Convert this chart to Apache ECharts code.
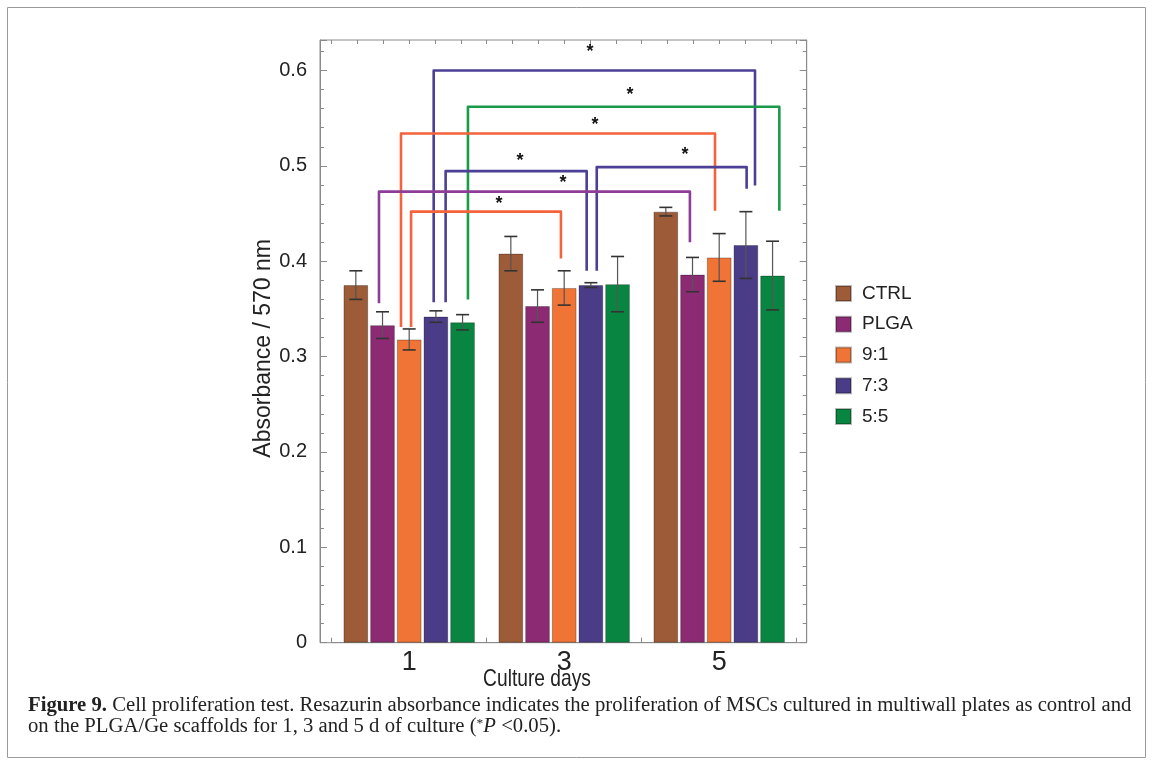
<!DOCTYPE html>
<html>
<head>
<meta charset="utf-8">
<script src="https://cdn.jsdelivr.net/npm/echarts@6/dist/echarts.min.js"></script>
<style>
html,body{margin:0;padding:0;background:#fff;}
#chart{width:1153px;height:783px;}
</style>
</head>
<body>
<div id="chart"></div>
<script>
// ---------- data ----------
const categories = ['1', '3', '5'];
const seriesNames = ['CTRL', 'PLGA', '9:1', '7:3', '5:5'];
const ctrlValues = [0.375, 0.408, 0.452];
const ctrlErrors = [0.015, 0.018, 0.0045];
const plgaValues = [0.333, 0.353, 0.386];
const plgaErrors = [0.014, 0.017, 0.018];
const r91Values = [0.318, 0.372, 0.404];
const r91Errors = [0.011, 0.018, 0.025];
const r73Values = [0.342, 0.375, 0.417];
const r73Errors = [0.006, 0.0025, 0.035];
const r55Values = [0.336, 0.376, 0.385];
const r55Errors = [0.008, 0.029, 0.036];
const yTickLabels = ['0', '0.1', '0.2', '0.3', '0.4', '0.5', '0.6'];
const xAxisTitle = 'Culture days';
const yAxisTitle = 'Absorbance / 570 nm';

// significance brackets (x in category units, y in absorbance)
const bracketLeftX   = [0.158, 0.379, -0.053, 1.210, 0.235, -0.195, 0.012];
const bracketRightX  = [2.231, 2.388, 1.973, 2.177, 1.145, 1.811, 0.979];
const bracketTopY    = [0.600, 0.562, 0.534, 0.4987, 0.4945, 0.473, 0.452];
const bracketLeftEnd = [0.357, 0.360, 0.331, 0.390, 0.357, 0.356, 0.331];
const bracketRightEnd= [0.4795, 0.453, 0.453, 0.476, 0.390, 0.420, 0.403];
const bracketColorKey= ['blue', 'green', 'orange', 'blue', 'blue', 'purple', 'orange'];
const starX          = [1.166, 1.425, 1.199, 1.780, 0.715, 0.992, 0.579];
const starY          = [0.619, 0.574, 0.543, 0.511, 0.505, 0.482, 0.460];

// ---------- styles ----------
const barColors = ['#9D5B37', '#8C2B73', '#EF7435', '#4A3C87', '#088641'];
const bracketColors = { blue: '#4B3F96', green: '#1B9A4A', orange: '#F4633B', purple: '#8E3C97' };
const BAR_CAT_GAP = 0.152, BAR_GAP = 0.08;
const sansFont = 'Liberation Sans, Arial, sans-serif';

const allValues = [ctrlValues, plgaValues, r91Values, r73Values, r55Values];
const allErrors = [ctrlErrors, plgaErrors, r91Errors, r73Errors, r55Errors];

const errData = [];
allValues.forEach((vals, s) => vals.forEach((v, c) => errData.push([c, s, v, allErrors[s][c]])));

const bracketData = bracketLeftX.map((l, i) => [l, bracketRightX[i], bracketTopY[i], bracketLeftEnd[i], bracketRightEnd[i], starX[i], starY[i], i]);

const chart = echarts.init(document.getElementById('chart'));

const barSeries = seriesNames.map((name, s) => ({
  name: name,
  type: 'bar',
  xAxisIndex: 0,
  yAxisIndex: 2,
  data: allValues[s],
  barCategoryGap: (BAR_CAT_GAP * 100) + '%',
  barGap: (BAR_GAP * 100) + '%',
  itemStyle: { color: barColors[s], borderColor: 'rgba(0,0,0,0.28)', borderWidth: 1 },
  emphasis: { disabled: true },
  z: 2
}));

function errorRender(params, api) {
  const c = api.value(0), s = api.value(1), v = api.value(2), e = api.value(3);
  const n = seriesNames.length;
  const band = api.size([1, 0])[0];
  const remained = band * (1 - BAR_CAT_GAP);
  const bw = remained / (n + (n - 1) * BAR_GAP);
  const total = n * bw + (n - 1) * bw * BAR_GAP;
  const off = -total / 2 + s * bw * (1 + BAR_GAP) + bw / 2;
  const top = api.coord([c, v + e]);
  const bot = api.coord([c, v - e]);
  const x = top[0] + off;
  const cap = 6.5;
  return {
    type: 'group',
    children: [
      { type: 'line', shape: { x1: x, y1: top[1], x2: x, y2: bot[1] }, style: { stroke: '#555', lineWidth: 1.2 } },
      { type: 'line', shape: { x1: x - cap, y1: top[1], x2: x + cap, y2: top[1] }, style: { stroke: '#333', lineWidth: 1.6 } },
      { type: 'line', shape: { x1: x - cap, y1: bot[1], x2: x + cap, y2: bot[1] }, style: { stroke: '#333', lineWidth: 1.6 } }
    ]
  };
}

function bracketRender(params, api) {
  const l = api.value(0), r = api.value(1), t = api.value(2), lb = api.value(3), rb = api.value(4);
  const sx = api.value(5), sy = api.value(6), idx = api.value(7);
  const p1 = api.coord([l, lb]), p2 = api.coord([l, t]), p3 = api.coord([r, t]), p4 = api.coord([r, rb]);
  const sp = api.coord([sx, sy]);
  const col = bracketColors[bracketColorKey[idx]];
  return {
    type: 'group',
    children: [
      { type: 'polyline', shape: { points: [p1, p2, p3, p4] }, style: { stroke: col, lineWidth: 2.6, fill: null, lineJoin: 'round' } },
      { type: 'text', x: sp[0], y: sp[1], style: { text: '*', fill: '#111', font: 'bold 18px ' + sansFont, align: 'center', verticalAlign: 'middle' } }
    ]
  };
}

const axisGray = '#8a8a8a';

const option = {
  animation: false,
  backgroundColor: '#fff',
  grid: [
    { left: 320, right: 346.3, top: 40, bottom: 140.3, show: true, borderColor: axisGray, borderWidth: 1, backgroundColor: 'transparent' },
    { left: 331.7, right: 356.3, top: 40, bottom: 140.3 }
  ],
  legend: {
    data: seriesNames,
    orient: 'vertical',
    left: 830,
    top: 279,
    itemWidth: 15,
    itemHeight: 15,
    itemGap: 11.75,
    icon: 'rect',
    textStyle: { fontFamily: sansFont, fontSize: 19, color: '#222', padding: [0, 0, 0, 6] },
    selectedMode: false
  },
  xAxis: [
    {
      type: 'category', gridIndex: 1, position: 'bottom', data: categories,
      axisLine: { show: true, lineStyle: { color: axisGray } },
      axisTick: { show: true, inside: true, length: 5, lineStyle: { color: axisGray } },
      axisLabel: { fontFamily: sansFont, fontSize: 27, color: '#222', margin: 6 }
    },
    {
      type: 'value', gridIndex: 1, position: 'top', min: -0.5, max: 2.5, interval: 0.5,
      axisLine: { show: false },
      axisTick: { show: true, inside: true, length: 4, lineStyle: { color: axisGray } },
      minorTick: { show: true, splitNumber: 3, length: 4, lineStyle: { color: axisGray } },
      axisLabel: { show: false },
      splitLine: { show: false }
    },
    { type: 'value', gridIndex: 0, min: 0, max: 1, show: false }
  ],
  yAxis: [
    {
      type: 'value', gridIndex: 0, position: 'left', min: 0, max: 0.632, interval: 0.1,
      axisLine: { show: true, lineStyle: { color: axisGray } },
      axisTick: { show: true, inside: true, length: 7, lineStyle: { color: axisGray } },
      minorTick: { show: true, splitNumber: 5, length: 4, lineStyle: { color: axisGray } },
      splitLine: { show: false },
      axisLabel: {
        fontFamily: sansFont, fontSize: 20, color: '#222', margin: 13,
        formatter: (v) => {
          const k = Math.round(v * 10);
          return Math.abs(v * 10 - k) < 1e-6 ? (yTickLabels[k] || '') : '';
        }
      },
      name: yAxisTitle, nameLocation: 'middle', nameGap: 42, nameRotate: 90,
      nameTextStyle: { fontFamily: sansFont, fontSize: 23, color: '#222', padding: [0, 14, 0, 0] }
    },
    {
      type: 'value', gridIndex: 0, position: 'right', min: 0, max: 0.632, interval: 0.1,
      axisLine: { show: true, lineStyle: { color: axisGray } },
      axisTick: { show: true, inside: true, length: 7, lineStyle: { color: axisGray } },
      minorTick: { show: true, splitNumber: 5, length: 4, lineStyle: { color: axisGray } },
      splitLine: { show: false },
      axisLabel: { show: false }
    },
    { type: 'value', gridIndex: 1, min: 0, max: 0.632, show: false }
  ],
  series: barSeries.concat([
    {
      name: 'errorbars', type: 'custom', xAxisIndex: 0, yAxisIndex: 2,
      renderItem: errorRender, data: errData, z: 5, silent: true,
      encode: { x: 0, y: 2 }
    },
    {
      name: 'brackets', type: 'custom', xAxisIndex: 1, yAxisIndex: 2,
      renderItem: bracketRender, data: bracketData, z: 4, silent: true, clip: false,
      encode: { x: [0, 1], y: [2, 3, 4] }
    }
  ]),
  graphic: [
    {
      type: 'rect', shape: { x: 7.5, y: 7.5, width: 1138, height: 750 },
      style: { fill: null, stroke: '#9a9a9a', lineWidth: 1 }, silent: true, z: 0
    },
    {
      type: 'text', x: 537, y: 679, scaleX: 0.8,
      style: {
        text: xAxisTitle, font: '24px ' + sansFont, fill: '#222',
        align: 'center', verticalAlign: 'middle'
      }
    },
    {
      type: 'text', x: 28, y: 696, scaleX: 1.035,
      style: {
        text: '{b|Figure 9.} Cell proliferation test. Resazurin absorbance indicates the proliferation of MSCs cultured in multiwall plates as control and',
        font: '20px Liberation Serif, Times New Roman, serif', fill: '#222',
        rich: { b: { fontWeight: 'bold', fontFamily: 'Liberation Serif', fontSize: 20, fill: '#222' } }
      }
    },
    {
      type: 'text', x: 28, y: 717, scaleX: 1.035,
      style: {
        text: 'on the PLGA/Ge scaffolds for 1, 3 and 5 d of culture ({sup|*}{i|P} <0.05).',
        font: '20px Liberation Serif, Times New Roman, serif', fill: '#222',
        rich: {
          sup: { fontFamily: 'Liberation Serif', fontSize: 13, verticalAlign: 'top', fill: '#222', padding: [0, 0, 7, 0] },
          i: { fontStyle: 'italic', fontFamily: 'Liberation Serif', fontSize: 20, fill: '#222' }
        }
      }
    }
  ]
};

chart.setOption(option);
</script>
</body>
</html>
